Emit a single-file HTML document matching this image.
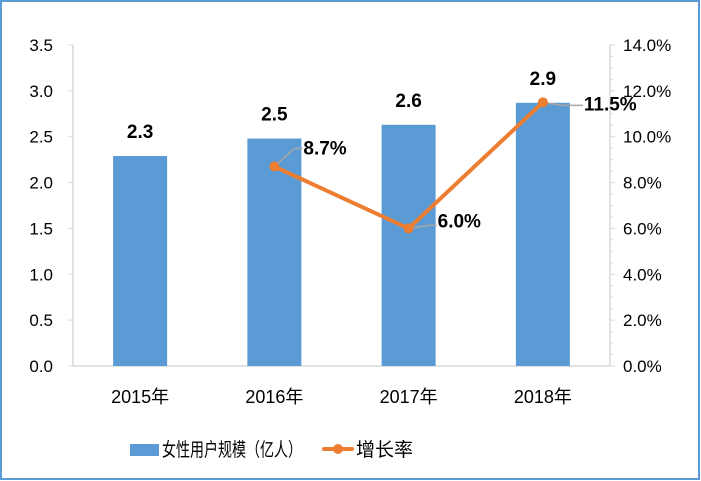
<!DOCTYPE html>
<html><head><meta charset="utf-8"><style>
body{margin:0;background:#fff}
svg{display:block;font-family:"Liberation Sans","Noto Sans CJK SC",sans-serif}
</style></head><body>
<svg id="c" width="701" height="481" viewBox="0 0 701 481">
<rect x="1" y="1" width="698" height="478" fill="#fff" stroke="#5b9bd5" stroke-width="2"/>
<g id="g"></g>
</svg>
<script>
const categories=["2015年","2016年","2017年","2018年"];
const barValues=[2.29,2.48,2.63,2.87];
const barLabels=["2.3","2.5","2.6","2.9"];
const rateCats=[1,2,3];
const rateValues=[8.7,6.0,11.5];
const rateLabels=["8.7%","6.0%","11.5%"];
const leftTicks=[0,0.5,1,1.5,2,2.5,3,3.5];
const rightTicks=[0,2,4,6,8,10,12,14];
const NS="http://www.w3.org/2000/svg",g=document.getElementById('g');
const X0=73,X1=610,Y0=366,Y1=45;
const yL=v=>Y0-(v/3.5)*(Y0-Y1), yR=v=>Y0-(v/14)*(Y0-Y1);
const band=(X1-X0)/categories.length, xc=i=>X0+band*(i+0.5);
function el(t,a,p){const e=document.createElementNS(NS,t);for(const k in a)e.setAttribute(k,a[k]);(p||g).appendChild(e);return e;}
function tx(s,a){const e=el('text',a);e.textContent=s;return e;}
let e;
e=el('line',{x1:X0,y1:Y1,x2:X0,y2:Y0,stroke:'#d9d9d9','stroke-width':1.5});

e=el('line',{x1:X1,y1:Y1,x2:X1,y2:Y0,stroke:'#d9d9d9','stroke-width':1.5});

e=el('line',{x1:X0,y1:Y0,x2:X1,y2:Y0,stroke:'#d9d9d9','stroke-width':1.5});

leftTicks.forEach(v=>{el('line',{x1:X0-5,y1:yL(v),x2:X0,y2:yL(v),stroke:'#d9d9d9'});
 e=tx(v.toFixed(1),{x:X0-20,y:yL(v)+6,'text-anchor':'end','font-size':17,fill:'#000'});
 });
for(let v=0;v<=14;v+=0.5){el('line',{x1:X1,y1:yR(v),x2:X1+(v%2==0?5:3),y2:yR(v),stroke:'#d9d9d9'});}
rightTicks.forEach(v=>{e=tx(v.toFixed(1)+'%',{x:623,y:yR(v)+6,'font-size':17,fill:'#000'});
 });
categories.forEach((c,i)=>{
 e=el('rect',{x:xc(i)-27,y:yL(barValues[i]),width:54,height:Y0-yL(barValues[i]),fill:'#5b9bd5'});
 
 e=tx(barLabels[i],{x:xc(i),y:yL(barValues[i])-18,'text-anchor':'middle','font-size':19,'font-weight':'bold'});
 
 e=tx(c,{x:xc(i),y:403,'text-anchor':'middle','font-size':18});
 });
const pts=rateCats.map((c,i)=>[xc(c),yR(rateValues[i])]);
e=el('polyline',{points:pts.map(p=>p.join(',')).join(' '),fill:'none',stroke:'#ed7d31','stroke-width':4,'stroke-linejoin':'round'});

pts.forEach((p,i)=>{
 el('polyline',{points:`${p[0]},${p[1]} ${p[0]+20},${p[1]-(i==2?-3:(i==0?18:3))} ${p[0]+(i==2?40:28)},${p[1]-(i==2?-3:(i==0?18:3))}`,fill:'none',stroke:'#a6a6a6','stroke-width':1.5});
 e=el('circle',{cx:p[0],cy:p[1],r:5,fill:'#ed7d31'});
 
 const ly=i==0?p[1]-12:(i==1?p[1]-1:p[1]+8);
 e=tx(rateLabels[i],{x:p[0]+(i==2?41:29),y:ly,'font-size':19,'font-weight':'bold'});
 });
e=el('rect',{x:130,y:444,width:29,height:12,fill:'#5b9bd5'});

e=tx('女性用户规模（亿人）',{x:162,y:456,'font-size':19,textLength:140,lengthAdjust:'spacingAndGlyphs'});

e=el('line',{x1:324,y1:449,x2:352,y2:449,stroke:'#ed7d31','stroke-width':4,'stroke-linecap':'round'});

el('circle',{cx:338,cy:449,r:5,fill:'#ed7d31'});
e=tx('增长率',{x:356,y:456,'font-size':19});

</script>
</body></html>
